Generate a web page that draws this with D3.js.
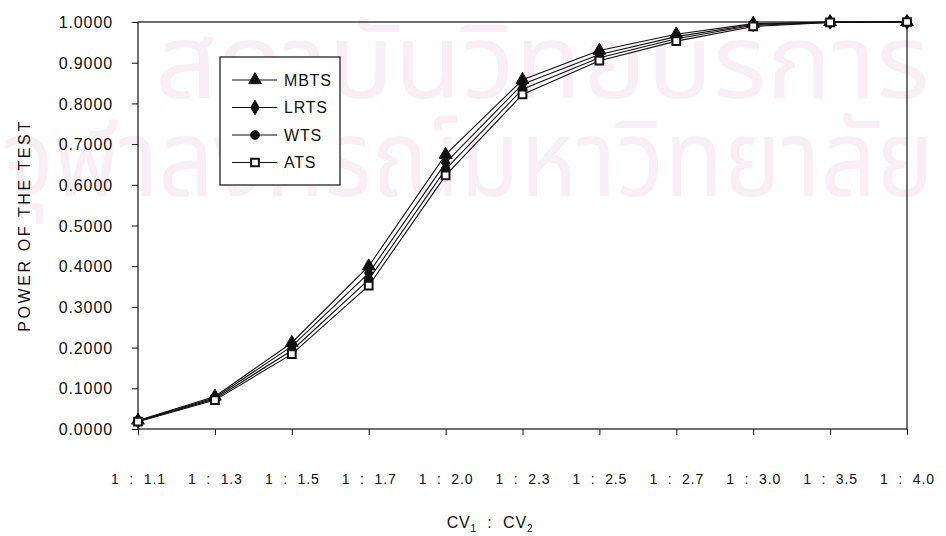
<!DOCTYPE html>
<html><head><meta charset="utf-8">
<script src="https://cdn.jsdelivr.net/npm/d3@7"></script>
<style>
body{margin:0;background:#fff;}
text{font-family:Arial,"Liberation Sans",sans-serif;fill:#111;}
</style></head>
<body><svg id="c" width="946" height="536"></svg>
<script>
const categories = ["1 : 1.1","1 : 1.3","1 : 1.5","1 : 1.7","1 : 2.0","1 : 2.3","1 : 2.5","1 : 2.7","1 : 3.0","1 : 3.5","1 : 4.0"];
const mbts = [0.0210,0.0800,0.2120,0.4000,0.6740,0.8580,0.9300,0.9700,0.9960,1.0000,1.0000];
const lrts = [0.0200,0.0770,0.2030,0.3830,0.6540,0.8470,0.9200,0.9640,0.9940,1.0000,1.0000];
const wts  = [0.0190,0.0740,0.1930,0.3670,0.6380,0.8350,0.9120,0.9590,0.9920,0.9990,1.0000];
const ats  = [0.0180,0.0710,0.1840,0.3520,0.6230,0.8220,0.9050,0.9530,0.9890,0.9990,1.0000];
const seriesNames = ["MBTS","LRTS","WTS","ATS"];
const yTicks = [0,0.1,0.2,0.3,0.4,0.5,0.6,0.7,0.8,0.9,1.0];
const watermark = ["สถาบันวิทยบริการ","จุฬาลงกรณ์มหาวิทยาลัย"];

const series = [
  {name:seriesNames[0], values:mbts, shape:d3.symbolTriangle},
  {name:seriesNames[1], values:lrts, shape:d3.symbolDiamond},
  {name:seriesNames[2], values:wts, shape:d3.symbolCircle},
  {name:seriesNames[3], values:ats, shape:d3.symbolSquare, open:true}
];

const svg = d3.select("#c");
const L=138, R=907, T=22, B=429;
const x = d3.scalePoint().domain(categories).range([L,R]);
const y = d3.scaleLinear().domain([0,1]).range([B,T]);

// faint watermark
const wmFont = "'Noto Sans Thai','Noto Sans','DejaVu Sans',sans-serif";
svg.append("text").attr("x",155).attr("y",98).attr("textLength",775).attr("lengthAdjust","spacingAndGlyphs")
  .style("font-family",wmFont).style("font-size","104px").style("fill","#f9eef4").text(watermark[0]);
svg.append("text").attr("x",2).attr("y",196).attr("textLength",932).attr("lengthAdjust","spacingAndGlyphs")
  .style("font-family",wmFont).style("font-size","108px").style("fill","#f9eef4").text(watermark[1]);

// plot border
svg.append("rect").attr("x",L).attr("y",T).attr("width",R-L).attr("height",B-T)
  .attr("fill","none").attr("stroke","#111").attr("stroke-width",1.2);

// y axis
const ya = svg.append("g").attr("transform",`translate(${L},0)`)
  .call(d3.axisLeft(y).tickValues(yTicks).tickFormat(d3.format(".4f")).tickSize(6).tickPadding(19));
ya.select(".domain").remove();
ya.selectAll("line").attr("stroke","#111");
ya.selectAll("text").style("font-size","16px").style("letter-spacing","0.9px").attr("dy","0.35em");

// x axis
const xa = svg.append("g").attr("transform",`translate(0,${B})`)
  .call(d3.axisBottom(x).tickSize(6).tickPadding(39));
xa.select(".domain").remove();
xa.selectAll("line").attr("stroke","#111");
xa.selectAll("text").style("font-size","14px").style("white-space","pre").style("letter-spacing","0.9px")
  .text(d=>d.replace(" : ","  :  "));

// axis titles
svg.append("text").attr("transform",`translate(30,${(T+B)/2}) rotate(-90)`).attr("text-anchor","middle")
  .style("font-size","16px").style("letter-spacing","2.6px").text("POWER OF THE TEST");
const xt = svg.append("text").attr("x",490).attr("y",528).attr("text-anchor","middle")
  .style("font-size","16px").style("white-space","pre").style("letter-spacing","0.8px");
xt.append("tspan").text("CV");
xt.append("tspan").attr("dy",4).style("font-size","10px").text("1");
xt.append("tspan").attr("dy",-4).text("  :  CV");
xt.append("tspan").attr("dy",4).style("font-size","10px").text("2");

// lines
const line = d3.line().x((d,i)=>x(categories[i])).y(d=>y(d));
series.forEach(s=>{
  svg.append("path").datum(s.values).attr("d",line).attr("fill","none").attr("stroke","#111").attr("stroke-width",1.1);
});
series.forEach(s=>{
  svg.append("g").selectAll("path").data(s.values).join("path")
    .attr("transform",(d,i)=>`translate(${x(categories[i])},${y(d)})`)
    .attr("d",d3.symbol().type(s.shape).size(s.shape===d3.symbolTriangle?70:60)())
    .attr("fill",s.open?"#fff":"#111").attr("stroke","#111").attr("stroke-width",s.open?2:1);
});

// legend
const lg = svg.append("g");
lg.append("rect").attr("x",220).attr("y",57).attr("width",120).attr("height",128)
  .attr("fill","#fff").attr("stroke","#111").attr("stroke-width",1.2);
series.forEach((s,i)=>{
  const cy = 80 + i*27.5;
  lg.append("line").attr("x1",232).attr("x2",277).attr("y1",cy).attr("y2",cy).attr("stroke","#111").attr("stroke-width",1.2);
  lg.append("path").attr("transform",`translate(255,${cy})`)
    .attr("d",d3.symbol().type(s.shape).size(s.shape===d3.symbolTriangle?70:60)())
    .attr("fill",s.open?"#fff":"#111").attr("stroke","#111").attr("stroke-width",s.open?2:1);
  lg.append("text").attr("x",284).attr("y",cy).attr("dy","0.36em").style("font-size","16px").style("letter-spacing","0.8px").text(s.name);
});
</script></body></html>
